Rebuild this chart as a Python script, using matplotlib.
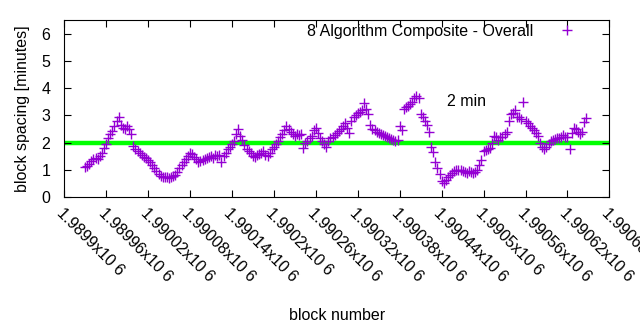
import numpy as np
import matplotlib
matplotlib.use('Agg')
import matplotlib.pyplot as plt

plt.rcParams['font.family'] = ['Liberation Sans', 'DejaVu Sans']

# block spacing in minutes, one reading every 3 blocks starting at block 1989930
first_block = 1989930
block_step = 3
spacing = [
    1.10, 1.15, 1.22, 1.33, 1.40, 1.45, 1.38, 1.52, 1.62, 1.80,
    1.95, 2.15, 2.30, 2.42, 2.62, 2.80, 2.95, 2.65, 2.55, 2.48,
    2.62, 2.50, 2.30, 1.88, 1.75, 1.68, 1.60, 1.55, 1.48, 1.42,
    1.35, 1.28, 1.18, 1.08, 0.95, 0.85, 0.78, 0.74, 0.72, 0.75,
    0.70, 0.72, 0.78, 0.82, 0.92, 1.05, 1.18, 1.28, 1.40, 1.50,
    1.62, 1.58, 1.48, 1.38, 1.30, 1.32, 1.35, 1.40, 1.42, 1.48,
    1.50, 1.45, 1.55, 1.52, 1.55, 1.30, 1.50, 1.62, 1.75, 1.85,
    1.95, 2.05, 2.30, 2.48, 2.25, 2.08, 1.92, 1.78, 1.70, 1.62,
    1.52, 1.48, 1.55, 1.58, 1.62, 1.68, 1.55, 1.52, 1.62, 1.75,
    1.85, 1.95, 2.05, 2.20, 2.32, 2.45, 2.62, 2.50, 2.38, 2.30,
    2.25, 2.30, 2.28, 2.32, 1.80, 2.00, 2.05, 2.15, 2.25, 2.45,
    2.55, 2.35, 2.15, 2.05, 1.95, 1.85, 2.05, 2.15, 2.22, 2.28,
    2.35, 2.42, 2.50, 2.62, 2.70, 2.55, 2.35, 2.80, 2.95, 3.00,
    3.08, 3.12, 3.20, 3.45, 3.25, 3.05, 2.65, 2.50, 2.45, 2.40,
    2.35, 2.32, 2.28, 2.25, 2.20, 2.15, 2.12, 2.10, 2.05, 2.10,
    2.60, 2.45, 3.25, 3.30, 3.35, 3.40, 3.50, 3.62, 3.70, 3.62,
    3.05, 2.95, 2.80, 2.65, 2.40, 1.85, 1.65, 1.30, 1.05, 0.85,
    0.60, 0.52, 0.62, 0.72, 0.82, 0.88, 0.95, 0.98, 1.00, 0.98,
    0.95, 0.92, 0.90, 0.95, 0.92, 0.88, 0.92, 1.00, 1.18, 1.35,
    1.70, 1.72, 1.75, 1.80, 1.98, 2.25, 2.22, 2.10, 2.20, 2.22,
    2.30, 2.38, 2.80, 3.05, 3.10, 3.20, 2.95, 2.92, 2.88, 3.50,
    2.80, 2.72, 2.62, 2.52, 2.45, 2.35, 2.25, 2.00, 1.85, 1.75,
    1.85, 1.95, 2.05, 2.10, 2.12, 2.15, 2.18, 2.20, 2.28, 2.22,
    2.20, 1.78, 2.35, 2.55, 2.50, 2.40, 2.30, 2.38, 2.75, 2.90,
]
blocks = first_block + block_step * np.arange(len(spacing))

target = 2.0
x_ticks = np.arange(1989900, 1990681, 60)
x_tick_labels = ['%gx10 6' % (t / 1e6) for t in x_ticks]

fs = 11.5

fig = plt.figure(figsize=(6.4, 3.3), dpi=100)
ax = fig.add_axes([0.1002, 0.403, 0.852, 0.5364])

ax.plot(blocks, spacing, '+', color='#9400d3', markersize=7, markeredgewidth=1.0,
        label='8 Algorithm Composite - Overall')
ax.axhline(target, color='#00ff00', linewidth=3.2, zorder=1)
ax.text(1990448, 3.5, '2 min', fontsize=fs, va='center', ha='left')

ax.set_xlim(1989900, 1990680)
ax.set_ylim(0, 6.5)
ax.set_yticks(range(0, 7))
ax.set_xticks(x_ticks)
ax.set_xticklabels(x_tick_labels, rotation=-45, ha='left', va='top',
                   rotation_mode='anchor', fontsize=fs)
ax.tick_params(direction='in', top=True, right=True, length=5, labelsize=fs)
ax.tick_params(axis='x', pad=6)
ax.tick_params(axis='y', pad=10)
ax.set_xlabel('block number', fontsize=fs, labelpad=17)
ax.set_ylabel('block spacing [minutes]', fontsize=fs, labelpad=8)

leg = ax.legend(loc='upper right', bbox_to_anchor=(0.951, 0.977), frameon=False,
                fontsize=fs, markerfirst=False, handletextpad=1.1,
                borderpad=0, borderaxespad=0)

fig.savefig('out.png', dpi=100)
